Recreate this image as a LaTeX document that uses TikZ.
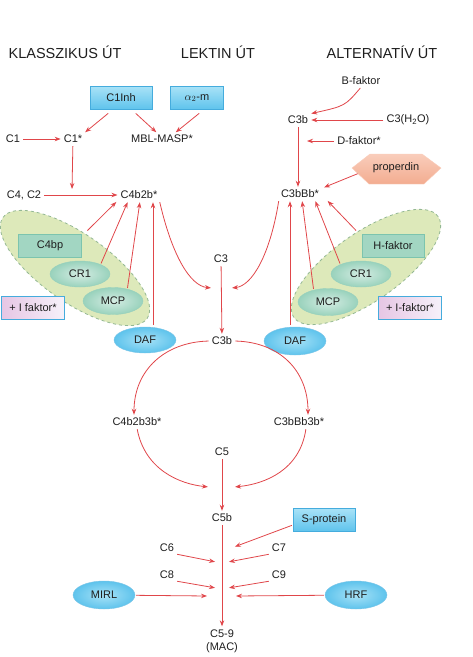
\documentclass[tikz,border=0pt]{standalone}
\usepackage{fontspec}
\setmainfont{Liberation Sans}
\usepackage{tikz}
\usetikzlibrary{arrows.meta, positioning, shapes.geometric}
\definecolor{cplred}{HTML}{E0464A}
\definecolor{cplgrp}{HTML}{DDE9BA}
\definecolor{cplgrpline}{HTML}{94B894}
\definecolor{cplteal}{HTML}{A2D6C2}
\definecolor{cpltealline}{HTML}{7CC4AE}
\definecolor{cplblue}{HTML}{5EC3EC}
\definecolor{cplbluelight}{HTML}{A8E2F7}
\definecolor{cplblueline}{HTML}{45ACDD}
\definecolor{cplpink}{HTML}{E6C6E4}
\definecolor{cplpinklight}{HTML}{F6F1FA}
\definecolor{cplsalmon}{HTML}{F3AC90}
\definecolor{cplsalmonlight}{HTML}{F9CDBB}
\definecolor{cpltext}{HTML}{1E1E1E}

\begin{document}
\begin{tikzpicture}[
  x=1pt, y=-1pt,
  every node/.style={font=\fontsize{11}{13}\selectfont, inner sep=2pt, text=cpltext},
  title/.style={font=\fontsize{14.5}{17}\selectfont},
  arrow/.style={-{Stealth[length=6pt,width=4.5pt]}, line width=0.8pt, color=cplred,
                shorten <=1pt, shorten >=1pt},
  bluebox/.style={draw=cplblueline, top color=cplbluelight, bottom color=cplblue,
                  minimum width=62pt, minimum height=23pt},
  tealbox/.style={draw=cpltealline, fill=cplteal, minimum width=63pt, minimum height=23pt},
  tealell/.style={ellipse, draw=cpltealline!80, inner color=cplteal!45, outer color=cplteal!110,
                  minimum width=60pt, minimum height=26pt},
  blueell/.style={ellipse, draw=cplblueline!70, inner color=cplbluelight, outer color=cplblue,
                  minimum width=62pt, minimum height=28pt},
  ibox/.style={draw=cplblueline, left color=cplpink, right color=cplpinklight,
               minimum width=63pt, minimum height=23pt},
  grpell/.style={ellipse, draw=cplgrpline, dashed, line width=0.8pt, fill=cplgrp,
                 minimum width=176pt, minimum height=68pt}
]
\useasboundingbox (0,0) rectangle (473,657);

% titles
\node[title] (klass) at (65,52) {KLASSZIKUS ÚT};
\node[title] (lekt) at (218,52) {LEKTIN ÚT};
\node[title] (alt) at (382,52) {ALTERNATÍV ÚT};

% classical and lectin start
\node[bluebox] (c1inh) at (121,98) {C1Inh};
\node[bluebox, minimum width=53pt] (a2m) at (197,98) {$\alpha_2$-m};
\node (c1) at (13,139) {C1};
\node (c1s) at (73,139) {C1*};
\node (mbl) at (162,139) {MBL-MASP*};
\node (c4c2) at (24,195) {C4, C2};
\node (c4b2b) at (139,195) {C4b2b*};
\coordinate (j1) at (72,190);

\draw[arrow] (c1) -- (c1s);
\draw[arrow] ([xshift=-12pt,yshift=-3pt]c1inh.south) -- (c1s.north east);
\draw[arrow] ([xshift=14pt,yshift=-3pt]c1inh.south) -- ([xshift=-5pt]mbl.north);
\draw[arrow] ([xshift=3pt,yshift=-3pt]a2m.south) -- ([xshift=13pt]mbl.north);
\draw[arrow] (c1s) -- (j1);
\draw[arrow] (c4c2) -- (c4b2b);

% alternative start
\node (bfak) at (361,81) {B-faktor};
\node (c3ba) at (298,120) {C3b};
\node (c3h) at (408,120) {C3(H\textsubscript{2}O)};
\node (dfak) at (359,141) {D-faktor*};
\node (c3bbb) at (300,194) {C3bBb*};
\draw[draw=cplsalmonlight, top color=cplsalmonlight, bottom color=cplsalmon]
  (352,168) -- (370,154) -- (422,154) -- (441,168) -- (424,184) -- (369,184) -- cycle;
\node (prop) at (396,168) {properdin};
\coordinate (jd) at (306,141);

\draw[arrow] (bfak.south) .. controls (345,106) .. (c3ba.north east);
\draw[arrow] (c3h) -- (c3ba);
\draw[arrow] (c3ba.south) -- (c3ba.south |- c3bbb.north);
\draw[arrow] (dfak) -- (jd);
\draw[arrow] ([xshift=-12pt,yshift=2pt]prop.south west) -- ([xshift=2pt]c3bbb.north east);

% regulators, classical side
\node[grpell, rotate=-35] (grpl) at (75,268) {};
\node[tealbox] (c4bp) at (50,246) {C4bp};
\node[tealell] (cr1l) at (80,274) {CR1};
\node[tealell, minimum height=27pt] (mcpl) at (113,301) {MCP};
\node[ibox] (ifakl) at (33,308) {+ I faktor*};
\node[blueell, minimum height=26pt] (dafl) at (145,340) {DAF};
\coordinate (dl) at (153,326);

\draw[arrow] ([xshift=5pt,yshift=3pt]c4bp.north east) -- ([xshift=-22pt]c4b2b.south);
\draw[arrow] (cr1l.25) -- ([xshift=-11pt]c4b2b.south);
\draw[arrow] (mcpl.40) -- ([xshift=1pt]c4b2b.south);
\draw[arrow] (dl) -- (dl |- c4b2b.south);

% regulators, alternative side
\node[grpell, rotate=35] (grpr) at (366,267) {};
\node[tealbox, minimum width=62pt] (hfak) at (393,246) {H-faktor};
\node[tealell] (cr1r) at (361,274) {CR1};
\node[tealell, minimum height=27pt] (mcpr) at (328,302) {MCP};
\node[ibox] (ifakr) at (410,308) {+ I-faktor*};
\node[blueell] (dafr) at (295,341) {DAF};
\coordinate (dr) at (290,326);

\draw[arrow] ([xshift=-5pt,yshift=3pt]hfak.north west) -- ([xshift=27pt]c3bbb.south);
\draw[arrow] (cr1r.155) -- ([xshift=15pt]c3bbb.south);
\draw[arrow] (mcpr.140) -- ([xshift=2pt]c3bbb.south);
\draw[arrow] (dr) -- (dr |- c3bbb.south);

% C3 convertases
\node (c3) at (221,259) {C3};
\node (c3bm) at (222,341) {C3b};
\coordinate (jl3) at (212,288);
\coordinate (jr3) at (231,288);
\draw[arrow] (c4b2b.south east) .. controls (172,255) and (190,286) .. (jl3);
\draw[arrow] (c3bbb.south west) .. controls (270,255) and (252,286) .. (jr3);
\draw[arrow] (c3) -- (c3bm);

% C5 convertases
\node (c4b2b3b) at (137,422) {C4b2b3b*};
\node (c3bbb3b) at (299,422) {C3bBb3b*};
\node (c5) at (222,452) {C5};
\node (c5b) at (222,518) {C5b};
\coordinate (jl5) at (209,487);
\coordinate (jr5) at (234,487);
\draw[arrow] (c3bm.west) .. controls (165,342) and (134,370) .. ([xshift=-3pt]c4b2b3b.north);
\draw[arrow] (c3bm.east) .. controls (279,342) and (308,370) .. ([xshift=9pt]c3bbb3b.north);
\draw[arrow] (c4b2b3b.south) .. controls (145,470) and (180,484) .. (jl5);
\draw[arrow] ([xshift=7pt]c3bbb3b.south) .. controls (300,470) and (265,484) .. (jr5);
\draw[arrow] (c5) -- (c5b);

% membrane attack complex
\node[bluebox] (sprot) at (324,520) {S-protein};
\node (c6) at (167,548) {C6};
\node (c7) at (279,548) {C7};
\node (c8) at (167,575) {C8};
\node (c9) at (279,575) {C9};
\node[blueell] (mirl) at (104,595) {MIRL};
\node[blueell] (hrf) at (356,595) {HRF};
\node[align=center] (c59) at (222,641) {C5-9\\(MAC)};
\coordinate (js) at (234,547);
\coordinate (jc6) at (216,562);
\coordinate (jc7) at (228,562);
\coordinate (jc8) at (216,588);
\coordinate (jc9) at (228,588);
\coordinate (jm) at (208,596);
\coordinate (jh) at (235,596);

\draw[arrow] (c5b) -- (c59);
\draw[arrow] ([yshift=-5pt]sprot.west) -- (js);
\draw[arrow] (c6.south east) -- (jc6);
\draw[arrow] (c7.south west) -- (jc7);
\draw[arrow] (c8.south east) -- (jc8);
\draw[arrow] (c9.south west) -- (jc9);
\draw[arrow] (mirl) -- (jm);
\draw[arrow] (hrf) -- (jh);

\end{tikzpicture}
\end{document}
